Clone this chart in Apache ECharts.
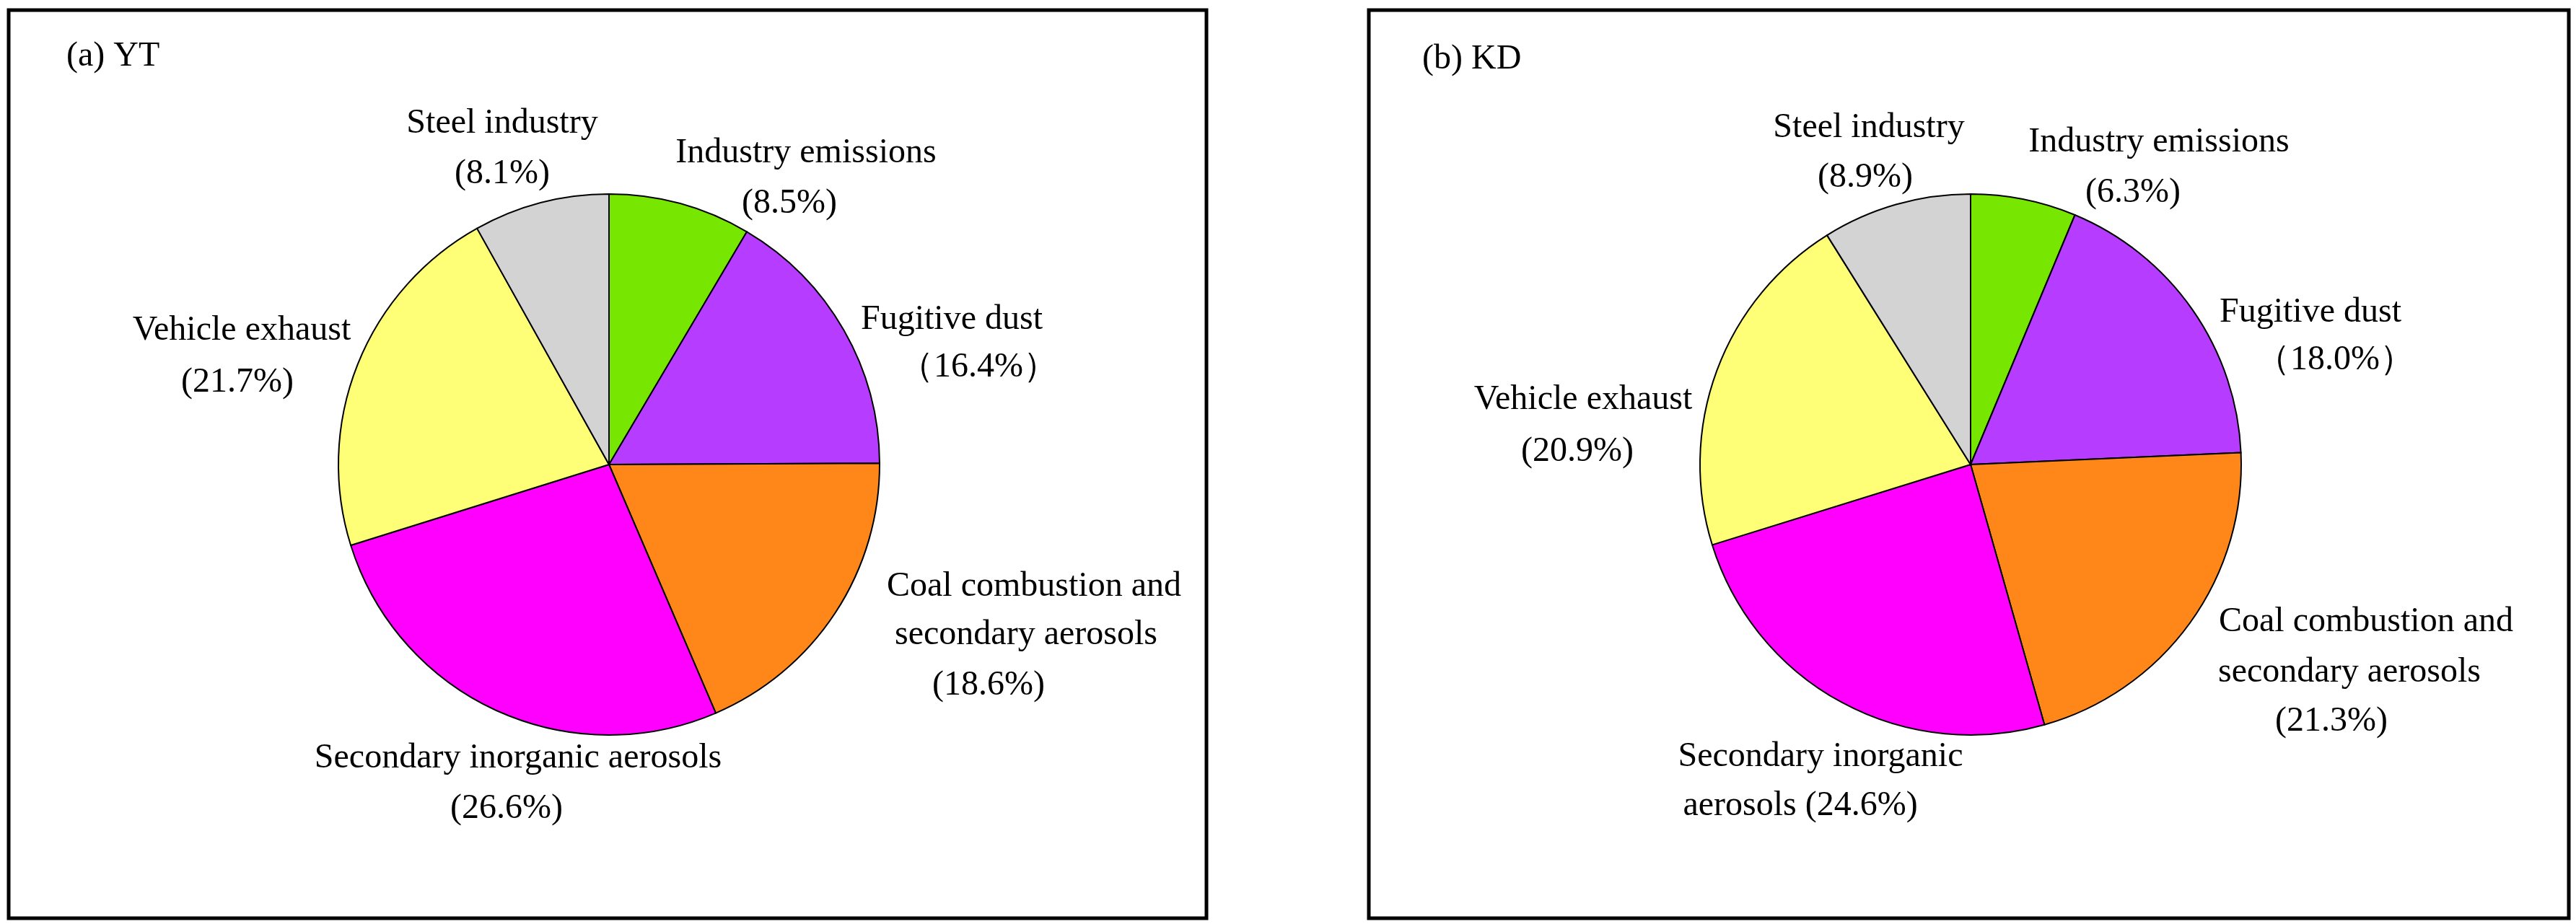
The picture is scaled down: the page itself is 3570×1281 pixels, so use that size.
<!DOCTYPE html>
<html><head><meta charset="utf-8">
<script src="https://cdn.jsdelivr.net/npm/echarts@6/dist/echarts.min.js"></script>
<style>html,body{margin:0;padding:0;background:#fff}#c{width:3570px;height:1281px}</style>
</head><body><div id="c"></div>
<script>
const categories = ['Industry emissions','Fugitive dust','Coal combustion and secondary aerosols','Secondary inorganic aerosols','Vehicle exhaust','Steel industry'];
const colors = ['#77e600','#b63cff','#ff8619','#ff00ff','#ffff77','#d3d3d3'];
const valuesYT = [8.5, 16.4, 18.6, 26.6, 21.7, 8.1];
const valuesKD = [6.3, 18.0, 21.3, 24.6, 20.9, 8.9];
const titles = ['(a) YT', '(b) KD'];

// label text lines per panel (text from data, layout separate)
function linesYT(v){ return [
  ['Industry emissions','(' + v[0].toFixed(1) + '%)'],
  ['Fugitive dust','（' + v[1].toFixed(1) + '%）'],
  ['Coal combustion and','secondary aerosols','(' + v[2].toFixed(1) + '%)'],
  ['Secondary inorganic aerosols','(' + v[3].toFixed(1) + '%)'],
  ['Vehicle exhaust','(' + v[4].toFixed(1) + '%)'],
  ['Steel industry','(' + v[5].toFixed(1) + '%)']
];}
function linesKD(v){ return [
  ['Industry emissions','(' + v[0].toFixed(1) + '%)'],
  ['Fugitive dust','（' + v[1].toFixed(1) + '%）'],
  ['Coal combustion and','secondary aerosols','(' + v[2].toFixed(1) + '%)'],
  ['Secondary inorganic','aerosols (' + v[3].toFixed(1) + '%)'],
  ['Vehicle exhaust','(' + v[4].toFixed(1) + '%)'],
  ['Steel industry','(' + v[5].toFixed(1) + '%)']
];}
// layout: per label, list of [x center, y center] per line
const layoutYT = [
  [[1117,212],[1094,282]],
  [[1319,443],[1356,509]],
  [[1433,813],[1422,880],[1370,950]],
  [[718,1051],[702,1121]],
  [[335,458],[329,530]],
  [[696,171],[696,241]]
];
const layoutKD = [
  [[2992,197],[2956,267]],
  [[3202,433],[3236,499]],
  [[3279,862],[3256,932],[3231,1000]],
  [[2523,1049],[2495,1117]],
  [[2194,554],[2186,626]],
  [[2590,177],[2585,246]]
];

const font = '"Liberation Serif","Times New Roman",serif';
const graphics = [
  {type:'rect', shape:{x:12,y:14,width:1660,height:1259}, style:{fill:null,stroke:'#000',lineWidth:5}, z:0},
  {type:'rect', shape:{x:1897,y:14,width:1663,height:1259}, style:{fill:null,stroke:'#000',lineWidth:5}, z:0},
  {type:'text', x:92, y:78, style:{text:titles[0], font:'48px '+font, fill:'#000', textVerticalAlign:'middle'}},
  {type:'text', x:1971, y:82, style:{text:titles[1], font:'48px '+font, fill:'#000', textVerticalAlign:'middle'}}
];
function addLabels(lines, layout){
  lines.forEach((ls,i)=>ls.forEach((t,j)=>{
    graphics.push({type:'text', x:layout[i][j][0], y:layout[i][j][1], z:10,
      style:{text:t, font:'48px '+font, fill:'#000', textAlign:'center', textVerticalAlign:'middle'}});
  }));
}
addLabels(linesYT(valuesYT), layoutYT);
addLabels(linesKD(valuesKD), layoutKD);

function mk(vals){ return categories.map((n,i)=>({name:n, value:vals[i], itemStyle:{color:colors[i]}})); }
const base = {type:'pie', radius:375, startAngle:90, clockwise:true, label:{show:false}, labelLine:{show:false},
  itemStyle:{borderColor:'#000', borderWidth:2}, emphasis:{disabled:true}, animation:false};
const chart = echarts.init(document.getElementById('c'));
chart.setOption({
  animation:false,
  graphic: graphics,
  series:[
    Object.assign({}, base, {center:[844,644], data:mk(valuesYT)}),
    Object.assign({}, base, {center:[2731,644], data:mk(valuesKD)})
  ]
});
</script></body></html>
